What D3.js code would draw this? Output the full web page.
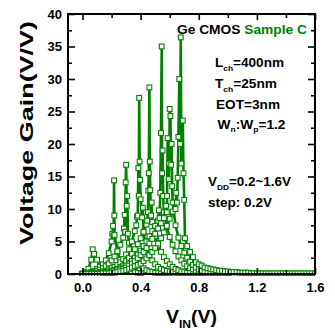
<!DOCTYPE html>
<html>
<head>
<meta charset="utf-8">
<script src="https://cdn.jsdelivr.net/npm/d3@7"></script>
<style>
  body { margin: 0; background: #fff; }
  svg text { font-family: "Liberation Sans", Arial, sans-serif; font-weight: bold; }
</style>
</head>
<body>
<svg id="chart" width="335" height="329"></svg>
<script>
// VIN sweep step (V), each curve sweeps 0..VDD
const vinStep = 0.02;
const vddList = [0.2, 0.4, 0.6, 0.8, 1.0, 1.2, 1.4, 1.6];

// voltage gain on the sweep grid, one array per VDD
const gain02 = [0.1,0.3,0.8,2.2,3.1,2.2,1.2,0.6,0.3,0.2,0.1];
const gain04 = [0,0.1,0.2,0.3,0.5,0.8,1.1,1.5,2.1,3.2,5.0,6.0,3.4,2.2,1.4,0.9,0.6,0.4,0.3,0.2,0.1];
const gain06 = [0,0.1,0.1,0.2,0.3,0.5,0.7,0.9,1.2,1.6,2.1,2.7,3.5,4.5,5.6,16.8,4.8,3.5,2.5,1.8,
  1.3,0.9,0.6,0.4,0.3,0.2,0.2,0.1,0.1,0.1,0.1];
const gain08 = [0,0,0.1,0.1,0.2,0.2,0.3,0.4,0.5,0.7,0.9,1.1,1.4,1.8,2.3,3.0,3.8,5.0,6.6,9.0,
  11.5,6.3,4.0,2.9,2.1,1.5,1.1,0.8,0.6,0.5,0.4,0.3,0.2,0.2,0.1,0.1,0.1,0.1,0,0,0];
const gain10 = [0,0,0,0.1,0.1,0.1,0.2,0.2,0.3,0.4,0.5,0.6,0.8,1.0,1.3,2.0,2.5,3.1,3.8,4.6,
  5.5,6.5,7.6,28.7,8.0,5.8,4.4,3.4,2.6,2.0,1.5,1.1,0.8,0.6,0.4,0.3,0.2,0.2,0.1,0.1,
  0.1,0.1,0,0,0,0,0,0,0,0,0];
const gain12 = [0,0,0,0,0.1,0.1,0.1,0.2,0.2,0.3,0.3,0.4,0.5,0.7,1.0,1.3,1.6,2.0,2.5,3.0,
  3.6,4.3,5.0,5.8,6.6,7.4,8.2,21.7,9.5,7.2,5.7,4.5,3.5,2.7,2.1,1.6,1.2,0.9,0.7,0.5,
  0.3,0.2,0.2,0.1,0.1,0.1,0,0,0,0,0,0,0,0,0,0,0,0,0,0,0];
const gain14 = [0,0,0,0,0,0.1,0.1,0.1,0.2,0.3,0.4,0.5,0.6,0.7,0.8,1.0,1.3,1.6,2.0,2.4,
  2.9,3.4,4.0,4.7,5.4,6.2,7.0,7.8,8.6,9.5,25.4,11.0,7.5,5.6,4.3,3.3,2.5,1.9,1.4,1.0,
  0.7,0.5,0.4,0.3,0.2,0.2,0.2,0.1,0.1,0.1,0.1,0.1,0,0,0,0,0,0,0,0,0,0,0,0,0,0,0,0,0,0,0];
const gain16 = [0,0,0,0,0,0,0,0.1,0.1,0.1,0.2,0.2,0.3,0.4,0.5,0.6,0.8,1.0,1.2,1.4,
  1.6,2.0,2.4,2.9,3.4,4.0,4.7,5.5,6.4,7.4,8.5,9.6,10.0,21.1,17.0,11.4,4.3,3.4,2.6,1.8,
  1.5,1.3,1.0,0.9,0.8,0.7,0.6,0.5,0.5,0.4,0.4,0.3,0.3,0.3,0.2,0.2,0.2,0.2,0.1,0.1,
  0.1,0.1,0.1,0.1,0.1,0.1,0.1,0.1,0.1,0.1,0.1,0.1,0.1,0.1,0.1,0.1,0.1,0.1,0.1,0.1,0.1];

// extra points measured inside the sharp switching peaks: [VIN, gain]
const peak02 = [[0.07, 3.8]];
const peak04 = [[0.205, 6.2], [0.21, 7.4], [0.214, 5.9], [0.217, 14.4], [0.219, 9.0]];
const peak06 = [[0.285, 7.0], [0.29, 9.1], [0.294, 6.5], [0.297, 14.1], [0.304, 10.5], [0.308, 12.0], [0.312, 6.2]];
const peak08 = [[0.37, 7.5], [0.375, 8.8], [0.384, 16.3], [0.387, 12.0], [0.39, 27.1], [0.393, 17.3],
  [0.396, 14.5], [0.41, 8.7], [0.415, 10.2]];
const peak10 = [[0.445, 8.2], [0.45, 9.5], [0.453, 12.8], [0.456, 15.5], [0.463, 17.3], [0.466, 12.9],
  [0.472, 9.0], [0.476, 11.0]];
const peak12 = [[0.525, 9.8], [0.53, 8.6], [0.535, 12.5], [0.545, 35.0], [0.548, 15.5], [0.551, 19.0], [0.555, 12.0]];
const peak14 = [[0.575, 10.5], [0.582, 12.0], [0.586, 20.9], [0.593, 14.6], [0.597, 17.0], [0.605, 24.3],
  [0.61, 16.8], [0.613, 20.0], [0.617, 13.5]];
const peak16 = [[0.645, 12.5], [0.65, 11.0], [0.655, 14.8], [0.666, 30.0], [0.672, 20.0], [0.676, 36.4],
  [0.69, 23.6], [0.695, 15.5], [0.705, 5.5]];

const gains = [gain02, gain04, gain06, gain08, gain10, gain12, gain14, gain16];
const peaks = [peak02, peak04, peak06, peak08, peak10, peak12, peak14, peak16];

const xTicks = [0, 0.4, 0.8, 1.2, 1.6];
const xMinor = [0.2, 0.6, 1.0, 1.4];
const yTicks = [0, 5, 10, 15, 20, 25, 30, 35, 40];
const yMinor = [2.5, 7.5, 12.5, 17.5, 22.5, 27.5, 32.5, 37.5];

const green = '#008000';
const svg = d3.select('#chart'),
  pl = 68, pr = 315, pt = 14, pb = 274,
  x = d3.scaleLinear().domain([-0.1, 1.6]).range([pl, pr]),
  y = d3.scaleLinear().domain([0, 40]).range([pb, pt]);

const plot = svg.append('g');
plot.append('clipPath').attr('id', 'clip')
  .append('rect').attr('x', pl).attr('y', pt - 4).attr('width', pr - pl).attr('height', pb - pt + 6);

const line = d3.line().x(d => x(d[0])).y(d => y(d[1]));
const curves = plot.append('g').attr('clip-path', 'url(#clip)');

gains.forEach((g, k) => {
  const pts = g.map((v, i) => [i * vinStep, v]).concat(peaks[k]).sort((a, b) => a[0] - b[0]);
  const c = curves.append('g').attr('class', 'vdd' + vddList[k]);
  c.append('path').datum(pts).attr('d', line)
    .attr('fill', 'none').attr('stroke', green).attr('stroke-width', 2.6).attr('stroke-linejoin', 'round');
  c.selectAll('rect').data(pts).enter().append('rect')
    .attr('x', d => x(d[0]) - 2.4).attr('y', d => y(d[1]) - 2.4)
    .attr('width', 4.8).attr('height', 4.8)
    .attr('fill', '#fff').attr('stroke', green).attr('stroke-width', 1.1);
});

// axes, ticks pointing inward
function ax(gen, tr, size, vals, fmt, pad) {
  const a = svg.append('g').attr('transform', tr)
    .call(gen.tickValues(vals).tickSizeInner(-size).tickSizeOuter(0).tickPadding(pad).tickFormat(fmt));
  a.select('.domain').remove();
  a.selectAll('line').attr('stroke', '#000').attr('stroke-width', 1.6);
  a.selectAll('text').attr('font-size', 13).attr('fill', '#000');
  return a;
}
const none = () => '';
ax(d3.axisBottom(x), `translate(0,${pb})`, 6, xTicks, d3.format('.1f'), 9);
ax(d3.axisBottom(x), `translate(0,${pb})`, 4, xMinor, none, 9);
ax(d3.axisTop(x), `translate(0,${pt})`, 6, xTicks, none, 0);
ax(d3.axisTop(x), `translate(0,${pt})`, 4, xMinor, none, 0);
ax(d3.axisLeft(y), `translate(${pl},0)`, 7, yTicks, d3.format('d'), 6);
ax(d3.axisLeft(y), `translate(${pl},0)`, 4, yMinor, none, 6);
ax(d3.axisRight(y), `translate(${pr},0)`, 7, yTicks, none, 0);
ax(d3.axisRight(y), `translate(${pr},0)`, 4, yMinor, none, 0);

svg.append('rect').attr('x', pl).attr('y', pt).attr('width', pr - pl).attr('height', pb - pt)
  .attr('fill', 'none').attr('stroke', '#000').attr('stroke-width', 2);

// labels
function label(xp, yp, parts, size, len) {
  const t = svg.append('text').attr('x', xp).attr('y', yp).attr('font-size', size);
  parts.forEach(p => {
    const s = t.append('tspan').text(p.t);
    if (p.sub) s.attr('font-size', size * 0.62).attr('dy', size * 0.28);
    if (p.up) s.attr('dy', -size * 0.28);
    if (p.fill) s.attr('fill', p.fill);
  });
  if (len) t.attr('textLength', len).attr('lengthAdjust', 'spacingAndGlyphs');
  return t;
}
label(177, 34, [{t: 'Ge CMOS '}, {t: 'Sample C', fill: green}], 13, 130);
label(215, 67, [{t: 'L'}, {t: 'ch', sub: 1}, {t: '=400nm', up: 1}], 12.5, 69);
label(215, 88, [{t: 'T'}, {t: 'ch', sub: 1}, {t: '=25nm', up: 1}], 12.5, 62);
label(216, 108.5, [{t: 'EOT=3nm'}], 12.5, 64);
label(217.5, 128.5, [{t: 'W'}, {t: 'n', sub: 1}, {t: ':W', up: 1}, {t: 'p', sub: 1}, {t: '=1.2', up: 1}], 12.5, 68);
label(208, 186, [{t: 'V'}, {t: 'DD', sub: 1}, {t: '=0.2~1.6V', up: 1}], 12.5, 83);
label(208, 206.5, [{t: 'step: 0.2V'}], 12.5, 64);
label(166, 323, [{t: 'V'}, {t: 'IN', sub: 1}, {t: '(V)', up: 1}], 18, 51);

svg.append('text').attr('transform', 'translate(33,133) rotate(-90)')
  .attr('text-anchor', 'middle').attr('font-size', 18)
  .attr('textLength', 224).attr('lengthAdjust', 'spacingAndGlyphs')
  .text('Voltage Gain(V/V)');
</script>
</body>
</html>
